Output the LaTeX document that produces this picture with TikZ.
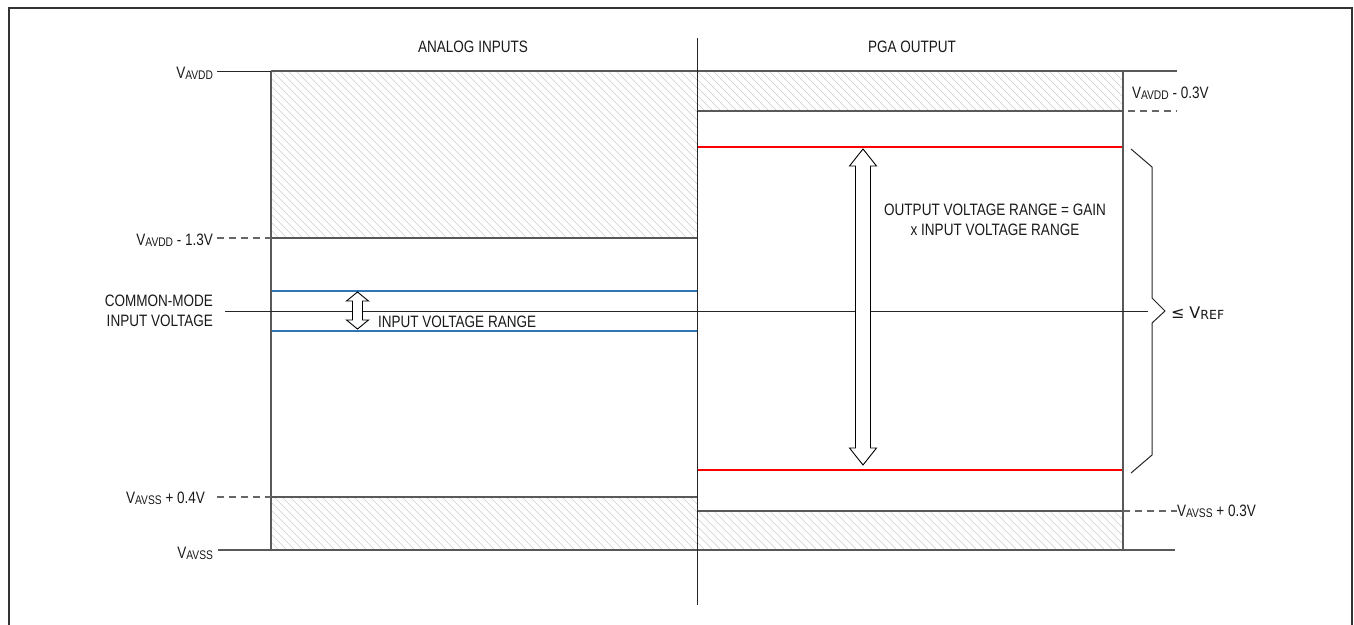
\documentclass[tikz,border=0pt]{standalone}
\usepackage{fontspec}
\setmainfont{Liberation Sans}[FakeStretch=0.82]
\newfontfamily\symfont{DejaVu Sans}
\newcommand\vsub[1]{V\raisebox{-1pt}{\fontsize{12.5}{13}\selectfont #1}}
\newcommand\hatchrect[4]{%
  \begin{scope}
    \clip (#1,#2) rectangle (#3,#4);
    \pgfmathsetmacro\hh{#4-#2}
    \foreach \i in {0,8,...,700} \draw[hatchline] ({#1+\i-\hh},#2) -- ++(\hh,\hh);
  \end{scope}}
\begin{document}
\begin{tikzpicture}[x=1pt,y=-1pt,font=\fontsize{16.5}{20}\selectfont,inner sep=0pt,outer sep=0pt,
  frameline/.style={draw=black!80,line width=2pt},
  boxline/.style={draw=black!65,line width=1.4pt},
  divline/.style={draw=black!85,line width=1pt},
  leadline/.style={draw=black!85,line width=1pt},
  dashlead/.style={draw=black!60,line width=1.2pt,dash pattern=on 7pt off 5pt},
  hatchline/.style={draw=black!20,line width=0.6pt},
  blueline/.style={draw={rgb,255:red,46;green,117;blue,182},line width=1.2pt},
  redline/.style={draw=red,line width=1.2pt},
  fatarrow/.style={draw=black,line width=0.9pt,fill=white,line join=miter},
  bracestyle/.style={draw=black!85,line width=1pt},
  lbl/.style={text=black!90}]
\useasboundingbox (0,0) rectangle (1354,624);
% frame
\draw[frameline] (9,640) -- (9,8) -- (1352,8) -- (1352,640);
% hatching
\hatchrect{271}{71}{697}{238}
\hatchrect{271}{497}{697}{550}
\hatchrect{697}{71}{1123}{111}
\hatchrect{697}{511}{1123}{550}
% coordinates
\coordinate (ltl) at (271,71);
\coordinate (lmid) at (271,238);
\coordinate (lbt) at (271,497);
\coordinate (lbl) at (271,550);
\coordinate (rtr) at (1123,71);
\coordinate (rmid) at (1123,111);
\coordinate (rbt) at (1123,511);
\coordinate (rbr) at (1123,550);
% colored range lines
\draw[blueline] (271,291) -- (697,291);
\draw[blueline] (271,331) -- (697,331);
\draw[redline] (697,147) -- (1123,147);
\draw[redline] (697,470) -- (1123,470);
% boxes
\draw[boxline] (ltl) -- (697,71) -- (rtr);
\draw[boxline] (lmid) -- (697,238);
\draw[boxline] (lbt) -- (697,497);
\draw[boxline] (lbl) -- (rbr);
\draw[boxline] (ltl) -- (lbl);
\draw[boxline] (697,111) -- (rmid);
\draw[boxline] (697,511) -- (rbt);
\draw[boxline] (rtr) -- (rbr);
% divider
\draw[divline] (697,38) -- (697,605);
% headers
\node[lbl,anchor=base] (hin) at (473,52) {ANALOG INPUTS};
\node[lbl,anchor=base] (hout) at (912,52) {PGA OUTPUT};
% left labels
\node[lbl,anchor=base east] (vdd) at (213,78) {\vsub{AVDD}};
\node[lbl,anchor=base east] (vdd13) at (213,245) {\vsub{AVDD} - 1.3V};
\node[lbl,anchor=east,align=right] (cm) at (213,311) {COMMON-MODE\\INPUT VOLTAGE};
\node[lbl,anchor=base east] (vss04) at (205,503) {\vsub{AVSS} + 0.4V};
\node[lbl,anchor=base east] (vss) at (213,558) {\vsub{AVSS}};
\draw[leadline] (217,71) -- (ltl);
\draw[dashlead] (217,238) -- (lmid);
\draw[dashlead] (217,497) -- (lbt);
\draw[boxline] (218,550) -- (lbl);
\coordinate (cmend) at (1148,311);
\draw[leadline] (225,311) -- (cmend);
% right labels
\coordinate (rtop) at (1177,71);
\draw[boxline] (rtr) -- (rtop);
\node[lbl,anchor=base west] (vdd03) at (1132,98) {\vsub{AVDD} - 0.3V};
\draw[dashlead] (1128,111) -- (1177,111);
\node[lbl,anchor=base west] (vss03) at (1177,516) {\vsub{AVSS} + 0.3V};
\draw[dashlead] (rbt) -- (vss03.west |- rbt);
\draw[boxline] (rbr) -- (1175,550);
% brace
\draw[bracestyle] (1131,149) -- (1152,167) -- (1152,298) -- (1165,311) -- (1152,323) -- (1152,455) -- (1131,473);
\node[lbl,anchor=base west,font=\symfont\fontsize{16}{18}\selectfont] (vref) at (1171,318) {≤ V\raisebox{-1pt}{\fontsize{12.5}{13}\selectfont REF}};
% big double arrow
\draw[fatarrow] (863,149) -- (876.5,166) -- (870.5,166) -- (870.5,448) -- (876.5,448) -- (863,465)
  -- (849.5,448) -- (855.5,448) -- (855.5,166) -- (849.5,166) -- cycle;
\node[lbl,align=center,anchor=base] (outtxt) at (995,235) {OUTPUT VOLTAGE RANGE = GAIN\\x INPUT VOLTAGE RANGE};
% small double arrow
\draw[fatarrow] (357.5,292) -- (368.5,301) -- (362.5,301) -- (362.5,320) -- (368.5,320) -- (357.5,329)
  -- (346.5,320) -- (352.5,320) -- (352.5,301) -- (346.5,301) -- cycle;
\node[lbl,anchor=base west] (intxt) at (378,327) {INPUT VOLTAGE RANGE};
\end{tikzpicture}
\end{document}
